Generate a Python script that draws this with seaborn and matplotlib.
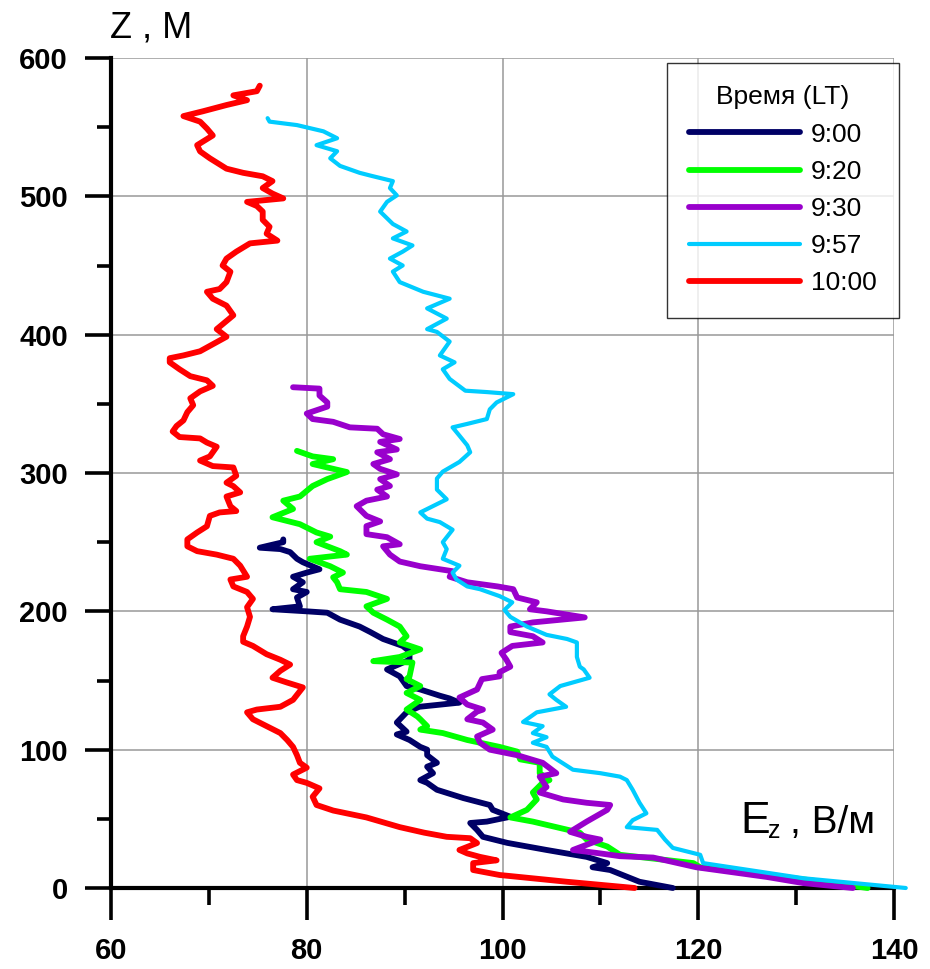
import numpy as np
import pandas as pd
import matplotlib
matplotlib.use("Agg")
import matplotlib.pyplot as plt
import seaborn as sns
from matplotlib.lines import Line2D

# ---------------- data ----------------
times = ["9:00", "9:20", "9:30", "9:57", "10:00"]
colors = ["#000066", "#00FF00", "#9900CC", "#00CCFF", "#FF0000"]

z_900 = [0, 4.5, 13, 15, 18, 22.5, 27.5, 32.6, 37, 42, 47, 48, 51.5, 56.5, 60, 65, 71, 76, 78, 83,
         87.7, 90.5, 96, 100, 102, 107, 111, 113, 119.6, 127, 131, 134, 137, 139, 143.5, 146, 153,
         158, 165, 171, 175, 180, 185, 189, 194, 199, 200, 201.5, 203.6, 210, 214, 216, 221, 225,
         228, 230.4, 235.5, 238, 242.8, 245, 246, 250, 252]
e_900 = [117.4, 114.0, 111.0, 109.2, 110.7, 108.6, 104.5, 100.5, 98.0, 97.4, 96.7, 98.4, 100.8,
         99.0, 98.7, 96.0, 93.3, 92.3, 91.6, 92.9, 92.3, 93.3, 92.3, 92.3, 91.6, 90.5, 89.2, 90.2,
         89.2, 90.2, 91.5, 95.6, 94.6, 93.6, 91.6, 90.2, 89.5, 88.2, 90.5, 90.5, 89.8, 87.8, 86.5,
         85.4, 83.4, 82.1, 80.0, 76.5, 79.3, 79.0, 80.0, 78.6, 79.6, 78.6, 80.0, 81.3, 79.6, 79.0,
         78.3, 77.3, 75.2, 77.6, 77.6]

z_920 = [0, 6, 15, 18, 24, 30, 35, 40, 44, 48, 51, 56.5, 64, 69, 76, 78, 83, 90.5, 93, 98.6, 102,
         107, 112, 114.5, 117, 122, 124, 129, 136, 141, 146, 151, 153, 163, 163.5, 164, 167, 172.5,
         177.5, 182, 189, 194, 199, 203.6, 209, 214, 216, 221, 224.6, 228, 232.6, 238, 241, 243.5,
         250, 254, 257, 263, 268, 274, 280, 283, 290.6, 295.6, 300.7, 306.5, 310, 312, 316]
e_920 = [137.3, 131.0, 120.2, 119.5, 112.0, 110.7, 108.6, 107.9, 105.5, 103.1, 100.8, 102.5, 103.5,
         103.1, 104.1, 104.8, 103.8, 103.8, 101.8, 101.5, 99.7, 96.4, 93.9, 91.6, 92.3, 91.6, 91.3,
         90.2, 91.6, 90.2, 91.6, 90.2, 90.5, 90.8, 88.5, 86.8, 89.5, 91.6, 89.5, 90.2, 89.5, 88.2,
         86.8, 86.1, 88.2, 86.1, 83.4, 83.1, 82.7, 83.7, 82.4, 80.3, 84.1, 83.4, 81.0, 82.4, 81.0,
         79.3, 76.5, 78.6, 77.6, 79.3, 80.6, 82.1, 84.1, 80.6, 82.7, 80.6, 79.0]

z_930 = [0, 3.6, 8, 15, 22, 23, 25, 27.5, 35, 37, 40.6, 48, 56.5, 60, 61.6, 64, 69, 73, 80.5, 83,
         90.5, 96, 100, 105, 109.5, 114.5, 119.6, 122, 127.5, 129, 132.6, 137.7, 143.5, 151, 153,
         156, 160, 165, 170, 175, 177.5, 182, 185, 189, 192, 195.6, 200, 201.5, 206.5, 210, 216,
         218, 221, 225, 229, 232.6, 236, 241, 247, 248.5, 253.6, 255.8, 261.6, 265, 269, 276, 280,
         283, 288, 290.6, 295.6, 299, 303, 306.5, 310, 315, 317, 322.5, 324.6, 328, 332, 333, 337,
         339, 343, 348, 351, 356, 361, 362]
e_930 = [135.8, 130.7, 127.0, 119.8, 115.4, 112.0, 110.0, 107.2, 110.0, 108.6, 106.9, 108.6, 110.7,
         111.0, 108.6, 106.2, 103.8, 104.5, 103.8, 105.5, 104.1, 101.5, 98.7, 97.7, 97.4, 99.0,
         98.0, 96.4, 97.4, 98.0, 96.4, 95.6, 97.4, 97.9, 99.7, 99.7, 100.8, 100.4, 99.9, 101.0,
         104.1, 103.1, 100.8, 100.8, 103.1, 108.4, 104.5, 102.8, 103.5, 101.5, 101.1, 99.5, 96.4,
         94.6, 94.9, 91.6, 89.5, 88.5, 87.8, 89.5, 88.2, 86.1, 86.1, 87.5, 86.1, 85.1, 86.1, 88.2,
         87.2, 88.5, 87.5, 89.2, 87.5, 86.8, 88.5, 87.2, 89.2, 87.5, 89.5, 87.8, 87.2, 84.4, 82.7,
         80.6, 80.0, 82.1, 82.1, 81.3, 81.3, 78.6]

z_957 = [0, 7, 18, 24, 29, 35, 42, 44, 49, 54, 61.6, 71, 78, 80.5, 83, 85.5, 95, 102, 105, 109,
         112, 117, 120, 127, 131, 136, 140, 146, 152, 158, 160, 167, 177.5, 180, 183, 189, 196,
         201, 206.5, 211, 216, 218, 223, 228, 233, 238, 245, 250, 259, 264.5, 267, 271.5, 281, 288,
         296, 301, 308, 315, 320, 327, 333, 335.5, 339, 346, 351, 357, 358.5, 359.5, 368, 375, 380,
         385, 395, 402, 404, 411.6, 419, 426, 431, 438, 445.6, 450, 455, 460, 464.5, 469.6, 474.6,
         480, 489, 496, 500.7, 506, 511, 515, 517, 522, 527.5, 532.6, 537, 542, 547, 551.5, 554,
         556.5]
e_957 = [141.2, 130.8, 120.5, 120.2, 117.4, 116.6, 115.8, 112.7, 113.3, 114.7, 114.0, 113.3, 112.7,
         112.0, 110.0, 107.2, 105.1, 104.5, 103.1, 104.5, 103.1, 104.1, 102.1, 103.5, 106.5, 105.5,
         104.8, 105.9, 108.9, 108.3, 107.9, 107.6, 107.6, 106.6, 104.5, 102.5, 100.8, 100.2, 101.0,
         99.7, 97.7, 96.4, 95.3, 94.9, 95.6, 93.9, 94.3, 93.9, 94.9, 93.6, 92.3, 91.6, 94.3, 93.3,
         93.3, 93.9, 95.6, 96.7, 96.4, 95.6, 94.9, 96.4, 98.4, 98.7, 99.4, 101.1, 98.4, 96.2, 94.6,
         93.9, 95.1, 93.6, 94.6, 93.3, 92.3, 94.3, 92.3, 94.6, 91.9, 89.5, 88.8, 89.8, 88.5, 89.8,
         90.8, 88.8, 90.2, 88.8, 87.5, 88.2, 89.2, 88.5, 88.8, 86.5, 85.4, 83.4, 82.4, 83.1, 81.0,
         83.1, 81.7, 79.0, 76.2, 76.0]

z_1000 = [0, 4.5, 9.4, 13, 18, 20, 22.5, 25, 27.5, 32.5, 36, 37, 40, 44, 51, 56, 60, 66, 72, 76,
          78, 82, 87, 90.5, 96, 102, 107, 112, 117, 122, 127, 129, 131, 136, 145, 148.5, 152, 157,
          161.5, 165, 169, 175, 178, 182, 189, 196, 203, 209, 214, 218, 223, 225, 233, 238, 241,
          243.5, 247, 252, 257, 261.5, 269, 271.5, 272.5, 276, 283, 286, 290.5, 293, 298, 304, 305,
          309, 312, 319, 322, 325, 326, 330, 334, 338, 344, 349, 354, 359, 363, 367, 370, 375, 380,
          383, 385, 388, 398.5, 404, 414, 421, 426, 431, 433, 438, 445.5, 450, 455, 460, 466, 468,
          473, 478, 483, 489, 493, 496, 498.5, 502, 506, 511, 514.5, 517, 520, 527.5, 532.5, 537,
          544, 549, 554, 558, 561.5, 566, 569.5, 573, 576, 580]
e_1000 = [113.5, 106.6, 99.7, 97.0, 97.0, 99.4, 97.7, 96.4, 95.6, 97.4, 96.7, 94.3, 92.0, 89.5,
          86.1, 82.7, 81.0, 80.6, 81.3, 80.0, 79.0, 78.6, 80.0, 79.3, 79.0, 78.6, 78.0, 77.3, 75.9,
          74.5, 73.9, 74.9, 77.3, 78.6, 79.6, 78.0, 76.5, 77.3, 78.3, 77.3, 75.9, 74.5, 73.5, 73.5,
          73.9, 74.2, 73.9, 74.5, 73.9, 72.5, 72.2, 73.9, 73.2, 72.5, 70.8, 68.8, 67.8, 67.8, 68.8,
          69.8, 70.1, 71.1, 72.8, 72.2, 71.8, 73.2, 72.5, 71.8, 72.8, 72.5, 70.4, 69.1, 70.1, 70.8,
          69.8, 69.1, 67.0, 66.3, 66.7, 67.4, 67.8, 68.4, 68.1, 69.1, 70.4, 69.8, 68.1, 67.0, 66.0,
          66.0, 67.4, 69.1, 71.8, 70.8, 72.5, 71.8, 70.4, 69.8, 71.1, 71.8, 72.2, 71.4, 71.8, 72.8,
          74.2, 77.0, 75.9, 76.2, 75.5, 75.5, 74.9, 73.9, 77.6, 76.5, 75.5, 76.5, 75.5, 73.5, 71.8,
          70.1, 69.1, 68.8, 70.4, 69.8, 69.1, 67.4, 69.4, 71.8, 73.9, 72.5, 74.9, 75.2]

x_ticks = [60, 80, 100, 120, 140]
y_ticks = [0, 100, 200, 300, 400, 500, 600]

# ---------------- build table ----------------
frames = []
for t, zz, ee in zip(times, [z_900, z_920, z_930, z_957, z_1000],
                     [e_900, e_920, e_930, e_957, e_1000]):
    frames.append(pd.DataFrame({"E": ee, "z": zz, "time": t}))
df = pd.concat(frames, ignore_index=True)

# ---------------- style ----------------
sns.set_style("white")
plt.rcParams["font.family"] = ["Liberation Sans", "DejaVu Sans"]
plt.rcParams["text.color"] = "black"
plt.rcParams["xtick.color"] = "black"
plt.rcParams["ytick.color"] = "black"
plt.rcParams["axes.labelcolor"] = "black"

W, H = 930, 969
fig = plt.figure(figsize=(W / 100, H / 100), dpi=100)
ax = fig.add_axes([111 / W, 1 - 888 / H, (894 - 111) / W, (888 - 58) / H])

sns.lineplot(data=df, x="E", y="z", hue="time", hue_order=times,
             palette=dict(zip(times, colors)), sort=False, estimator=None,
             linewidth=4.2, legend=False, ax=ax)

lws = [4.2, 4.2, 4.2, 3.0, 4.2]
for line, lw in zip(ax.lines, lws):
    line.set_linewidth(lw)
    line.set_clip_on(False)
    line.set_solid_joinstyle("round")
    line.set_zorder(3)

ax.set_xlim(60, 140)
ax.set_ylim(0, 600)
ax.set_xticks(x_ticks)
ax.set_yticks(y_ticks)
ax.set_xticks([70, 90, 110, 130], minor=True)
ax.set_yticks([50, 150, 250, 350, 450, 550], minor=True)
ax.set_xlabel("")
ax.set_ylabel("")

for s in ["top", "right"]:
    ax.spines[s].set_visible(False)
for s in ["left", "bottom"]:
    ax.spines[s].set_linewidth(3)
    ax.spines[s].set_color("black")
    ax.spines[s].set_zorder(2.5)

ax.grid(True, which="major", color="#999999", linewidth=1.1)
ax.set_axisbelow(True)

ax.tick_params(axis="both", which="both", bottom=True, left=True, top=False, right=False,
               color="black", labelcolor="black")
ax.tick_params(axis="x", which="major", direction="out", length=23, width=2.6,
               pad=12, labelsize=21)
ax.tick_params(axis="x", which="minor", direction="out", length=12, width=2.6)
ax.tick_params(axis="y", which="major", direction="out", length=19, width=2.6,
               pad=12, labelsize=21)
ax.tick_params(axis="y", which="minor", direction="out", length=10, width=2.6)
for lab in ax.get_xticklabels() + ax.get_yticklabels():
    lab.set_fontweight("bold")

# axis titles
fig.text(110 / W, 1 - 37 / H, "Z , М", fontsize=26, ha="left", va="baseline")
fig.text(740 / W, 1 - 833 / H, "E", fontsize=32, ha="left", va="baseline")
fig.text(768 / W, 1 - 838 / H, "z", fontsize=18, ha="left", va="baseline")
fig.text(790 / W, 1 - 833 / H, ", В/м", fontsize=28, ha="left", va="baseline")

# legend
handles = [Line2D([0], [0], color=c, lw=lw, solid_capstyle="round")
           for c, lw in zip(colors, lws)]
leg = ax.legend(handles, times, title="Время (LT)", loc="upper right",
                bbox_to_anchor=(899 / W, 1 - 63 / H), bbox_transform=fig.transFigure,
                fontsize=19, title_fontsize=19, frameon=True, fancybox=False,
                edgecolor="black", handlelength=4.2, handletextpad=0.4,
                labelspacing=0.5, borderpad=0.85, borderaxespad=0)
leg.get_frame().set_linewidth(1.0)
leg.set_zorder(5)

fig.savefig("out.png", dpi=100, facecolor="white")
